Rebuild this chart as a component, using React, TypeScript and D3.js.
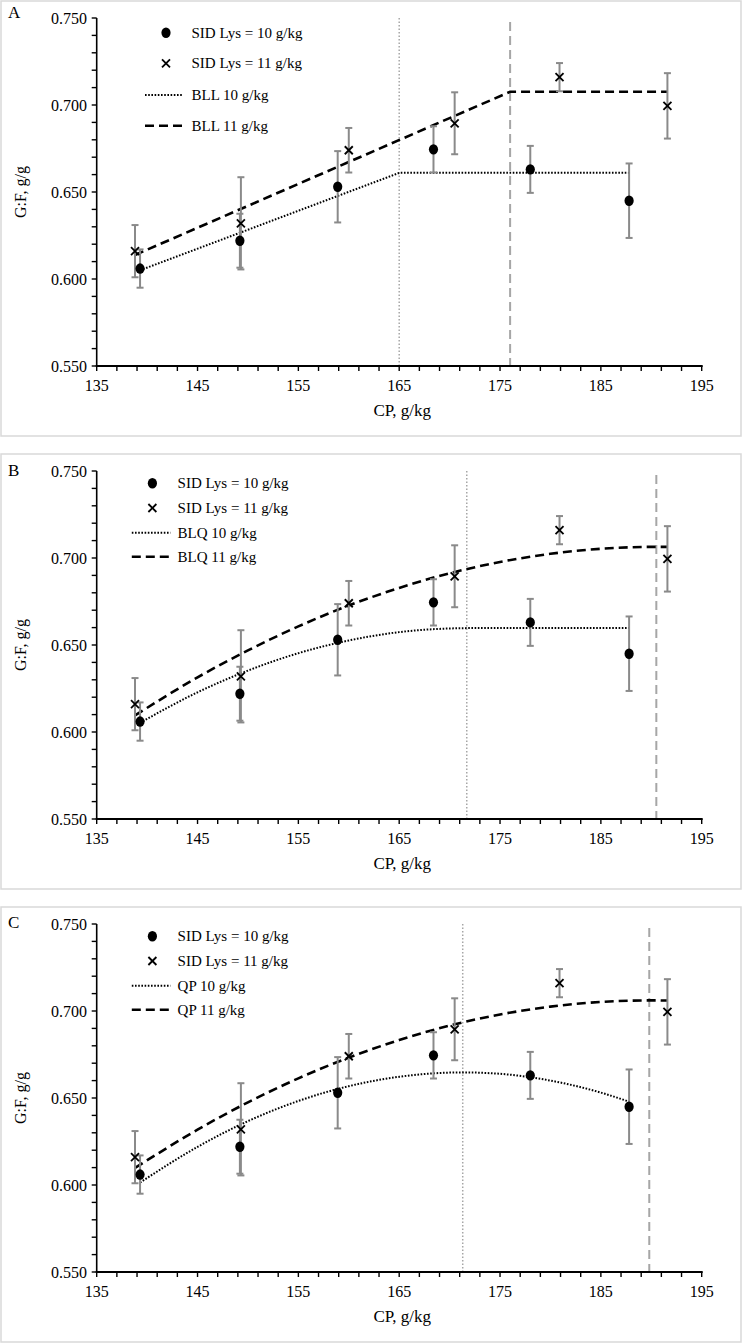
import React from "react";
import * as d3 from "d3";

// Observed data (same in every panel)
const CP_10 = [139.3, 149.2, 158.9, 168.4, 178.0, 187.8];
const GF_10 = [0.606, 0.622, 0.653, 0.6745, 0.663, 0.645];
const SE_10 = [0.011, 0.0155, 0.0205, 0.0133, 0.0135, 0.0214];
const CP_11 = [138.8, 149.3, 160.0, 170.5, 180.9, 191.6];
const GF_11 = [0.616, 0.632, 0.674, 0.6895, 0.716, 0.6995];
const SE_11 = [0.015, 0.0265, 0.0128, 0.0178, 0.0081, 0.0188];

// Axis ticks
const X_TICKS = [135, 145, 155, 165, 175, 185, 195];
const Y_TICKS = [0.55, 0.6, 0.65, 0.7, 0.75];
const Y_TICK_LABELS = ["0.550", "0.600", "0.650", "0.700", "0.750"];

// Fitted lines
const BLL10_CP = [139.3, 165.0, 187.8];
const BLL10_GF = [0.605, 0.661, 0.661];
const BLL11_CP = [138.8, 176.0, 191.6];
const BLL11_GF = [0.6138, 0.7076, 0.7076];

const BLQ10_CP = [139.3, 145, 150, 155, 160, 165, 170, 171.7, 187.8];
const BLQ10_GF = [0.6053, 0.6228, 0.6353, 0.6453, 0.6526, 0.6574, 0.6595, 0.6597, 0.6597];
const BLQ11_CP = [138.8, 145, 150, 155, 160, 165, 170, 175, 180, 185, 190.5, 191.6];
const BLQ11_GF = [0.6095, 0.6314, 0.6469, 0.6607, 0.6727, 0.6828, 0.6912, 0.6977, 0.7024, 0.7053, 0.7064, 0.7064];

const QP10_CP = [139.3, 145, 150, 155, 160, 165, 171.3, 175, 180, 185, 187.8];
const QP10_GF = [0.6014, 0.6219, 0.6367, 0.6483, 0.6568, 0.6622, 0.6647, 0.6639, 0.66, 0.6531, 0.6479];
const QP11_CP = [138.8, 145, 150, 155, 160, 165, 170, 175, 180, 185, 189.8, 191.6];
const QP11_GF = [0.6098, 0.6318, 0.6475, 0.6613, 0.6732, 0.6833, 0.6916, 0.698, 0.7025, 0.7052, 0.7061, 0.706];

// Breakpoints (vertical reference lines)
const BREAK_10 = [165.0, 171.7, 171.3];
const BREAK_11 = [176.0, 190.5, 189.8];

const LETTERS = ["A", "B", "C"];
const MODELS = ["BLL", "BLQ", "QP"];
const FIT10_CP = [BLL10_CP, BLQ10_CP, QP10_CP];
const FIT10_GF = [BLL10_GF, BLQ10_GF, QP10_GF];
const FIT11_CP = [BLL11_CP, BLQ11_CP, QP11_CP];
const FIT11_GF = [BLL11_GF, BLQ11_GF, QP11_GF];

const PANEL_TOPS = [1, 454, 907];
const FONT = "'Liberation Serif', 'Times New Roman', serif";
const ERR = "#8a8a8a";
const REF = "#a6a6a6";

function XMark({ cx, cy, s = 4 }: { cx: number; cy: number; s?: number }) {
  return (
    <g stroke="#000" strokeWidth={1.8}>
      <line x1={cx - s} y1={cy - s} x2={cx + s} y2={cy + s} />
      <line x1={cx - s} y1={cy + s} x2={cx + s} y2={cy - s} />
    </g>
  );
}

function Panel({ idx }: { idx: number }) {
  const top = PANEL_TOPS[idx];
  const x = d3.scaleLinear().domain([135, 195]).range([96.7, 701.7]);
  const y = d3.scaleLinear().domain([0.55, 0.75]).range([top + 365, top + 17]);
  const curve = idx === 0 ? d3.curveLinear : d3.curveMonotoneX;
  const line = d3
    .line<[number, number]>()
    .x((d) => x(d[0]))
    .y((d) => y(d[1]))
    .curve(curve);
  const fit10 = FIT10_CP[idx].map((c, i) => [c, FIT10_GF[idx][i]] as [number, number]);
  const fit11 = FIT11_CP[idx].map((c, i) => [c, FIT11_GF[idx][i]] as [number, number]);
  const xMinor = d3.range(135, 195.001, 2);
  const yMinor = d3.range(0, 21).map((i) => 0.55 + i * 0.01);
  const y0 = y(0.55);
  const yTop = y(0.75);

  const legendA = idx === 0;
  const legX = legendA ? 166 : 152.4;
  const legTextX = legendA ? 191.5 : 177.6;
  const legL0 = legendA ? 145 : 131.8;
  const legL1 = legendA ? 183 : 170.5;
  const legRows = legendA
    ? [14.7, 45.3, 77, 107.7].map((d) => yTop + d)
    : [12.3, 37, 61.7, 85.7].map((d) => yTop + d);
  const model = MODELS[idx];
  const letterY = [18, 476, 928][idx];

  return (
    <g fontFamily={FONT} fill="#000">
      <rect x={1} y={top} width={740} height={435} fill="#fff" stroke="#d9d9d9" strokeWidth={1.5} />
      <text x={8} y={letterY} fontSize={17}>{LETTERS[idx]}</text>

      {/* reference lines */}
      <line x1={x(BREAK_10[idx])} x2={x(BREAK_10[idx])} y1={yTop} y2={y0} stroke={REF} strokeWidth={1.5} strokeDasharray="1.5,2" />
      <line x1={x(BREAK_11[idx])} x2={x(BREAK_11[idx])} y1={yTop + 4} y2={y0} stroke={REF} strokeWidth={2} strokeDasharray="9,5" />

      {/* fitted lines */}
      <path d={line(fit10) || ""} fill="none" stroke="#000" strokeWidth={2} strokeDasharray="1.6,1.6" />
      <path d={line(fit11) || ""} fill="none" stroke="#000" strokeWidth={2.6} strokeDasharray="9,5" />

      {/* error bars */}
      {CP_10.map((c, i) => (
        <g key={"e10" + i} stroke={ERR} strokeWidth={2}>
          <line x1={x(c)} x2={x(c)} y1={y(GF_10[i] + SE_10[i])} y2={y(GF_10[i] - SE_10[i])} />
          <line x1={x(c) - 3.5} x2={x(c) + 3.5} y1={y(GF_10[i] + SE_10[i])} y2={y(GF_10[i] + SE_10[i])} />
          <line x1={x(c) - 3.5} x2={x(c) + 3.5} y1={y(GF_10[i] - SE_10[i])} y2={y(GF_10[i] - SE_10[i])} />
        </g>
      ))}
      {CP_11.map((c, i) => (
        <g key={"e11" + i} stroke={ERR} strokeWidth={2}>
          <line x1={x(c)} x2={x(c)} y1={y(GF_11[i] + SE_11[i])} y2={y(GF_11[i] - SE_11[i])} />
          <line x1={x(c) - 3.5} x2={x(c) + 3.5} y1={y(GF_11[i] + SE_11[i])} y2={y(GF_11[i] + SE_11[i])} />
          <line x1={x(c) - 3.5} x2={x(c) + 3.5} y1={y(GF_11[i] - SE_11[i])} y2={y(GF_11[i] - SE_11[i])} />
        </g>
      ))}

      {/* markers */}
      {CP_10.map((c, i) => (
        <ellipse key={"d" + i} cx={x(c)} cy={y(GF_10[i])} rx={4.6} ry={5.2} fill="#000" />
      ))}
      {CP_11.map((c, i) => (
        <XMark key={"x" + i} cx={x(c)} cy={y(GF_11[i])} />
      ))}

      {/* axes */}
      <line x1={x(135)} x2={x(135)} y1={yTop} y2={y0} stroke="#000" strokeWidth={1.6} />
      <line x1={x(135) - 1} x2={x(195) + 1} y1={y0} y2={y0} stroke="#000" strokeWidth={2} />
      {yMinor.map((v, i) => (
        <line key={"ym" + i} x1={x(135) - 5} x2={x(135)} y1={y(v)} y2={y(v)} stroke="#000" strokeWidth={1.4} />
      ))}
      {xMinor.map((v, i) => (
        <line key={"xm" + i} x1={x(v)} x2={x(v)} y1={y0} y2={y0 + 5} stroke="#000" strokeWidth={1.4} />
      ))}
      {Y_TICKS.map((v, i) => (
        <text key={"yt" + i} x={87} y={y(v) + 5.5} fontSize={16} textAnchor="end">{Y_TICK_LABELS[i]}</text>
      ))}
      {X_TICKS.map((v, i) => (
        <text key={"xt" + i} x={x(v)} y={y0 + 25} fontSize={16} textAnchor="middle">{v}</text>
      ))}
      <text x={(x(135) + x(195)) / 2 + 3} y={y0 + 50} fontSize={17} textAnchor="middle">CP, g/kg</text>
      <text transform={`translate(26,${(yTop + y0) / 2}) rotate(-90)`} fontSize={16} textAnchor="middle">G:F, g/g</text>

      {/* legend */}
      <ellipse cx={legX} cy={legRows[0]} rx={4.6} ry={5.2} fill="#000" />
      <text x={legTextX} y={legRows[0] + 5} fontSize={15}>SID Lys = 10 g/kg</text>
      <XMark cx={legX} cy={legRows[1]} />
      <text x={legTextX} y={legRows[1] + 5} fontSize={15}>SID Lys = 11 g/kg</text>
      <line x1={legL0} x2={legL1} y1={legRows[2]} y2={legRows[2]} stroke="#000" strokeWidth={2} strokeDasharray="1.6,1.6" />
      <text x={legTextX} y={legRows[2] + 5} fontSize={15}>{model} 10 g/kg</text>
      <line x1={legL0} x2={legL1} y1={legRows[3]} y2={legRows[3]} stroke="#000" strokeWidth={2.6} strokeDasharray="9,5" />
      <text x={legTextX} y={legRows[3] + 5} fontSize={15}>{model} 11 g/kg</text>
    </g>
  );
}

export default function App() {
  return (
    <div style={{ position: "absolute", left: 0, top: 0 }}>
      <svg width={744} height={1344} viewBox="0 0 744 1344" style={{ display: "block", background: "#fff" }}>
        {[0, 1, 2].map((i) => (
          <Panel key={i} idx={i} />
        ))}
      </svg>
    </div>
  );
}
